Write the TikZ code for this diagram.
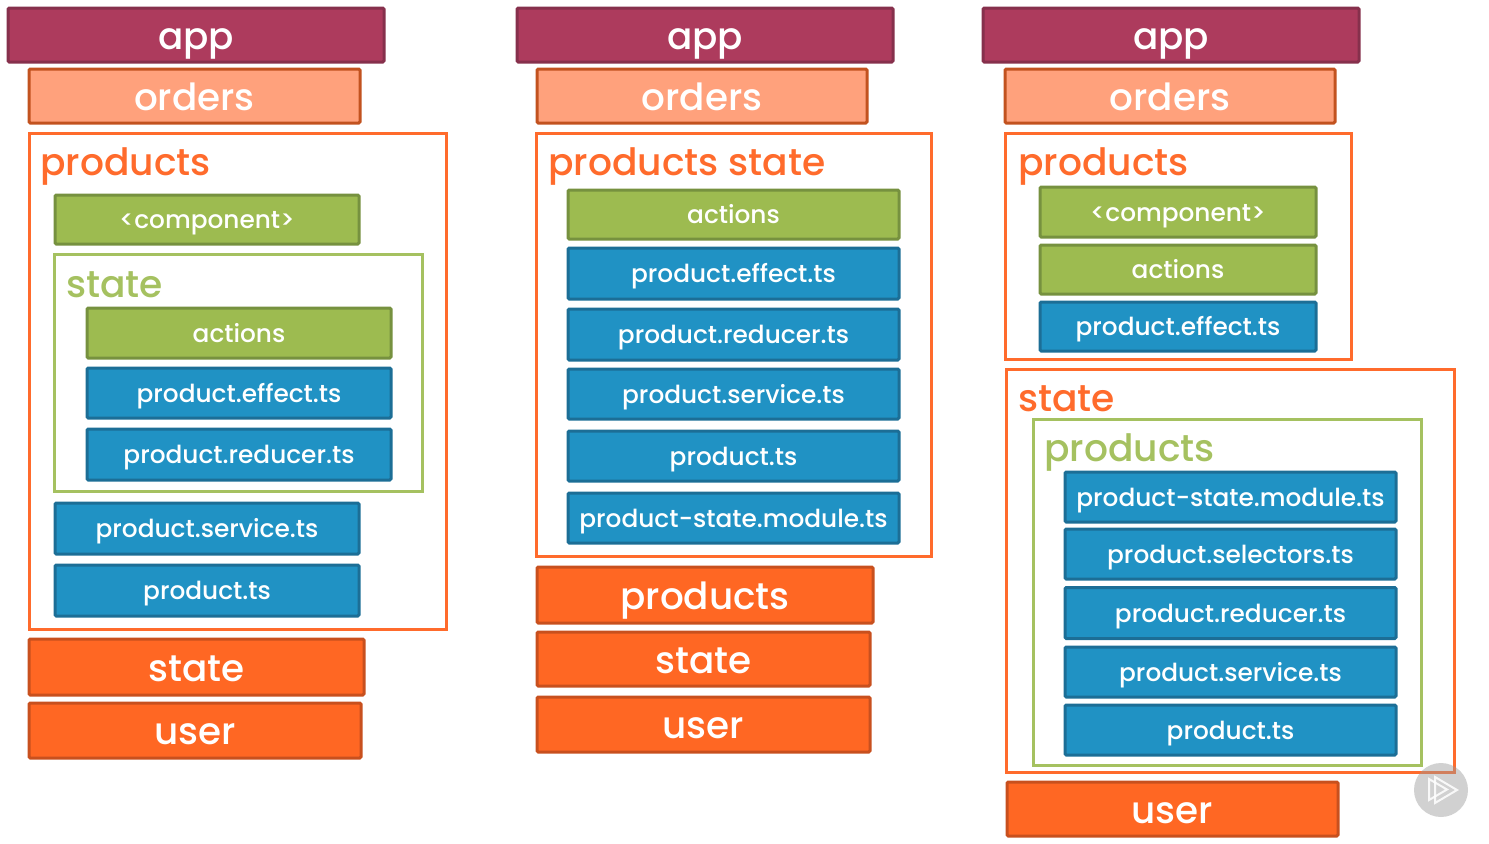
\documentclass[tikz,border=0pt]{standalone}
\usepackage{fontspec}
\setmainfont{Poppins Medium}
\usetikzlibrary{positioning}
\definecolor{appfill}{HTML}{AD3B5D}
\definecolor{appline}{HTML}{86304C}
\definecolor{ordfill}{HTML}{FFA17C}
\definecolor{ordline}{HTML}{C2521F}
\definecolor{orgfill}{HTML}{FF6723}
\definecolor{orgline}{HTML}{C8501E}
\definecolor{grnfill}{HTML}{9DBB50}
\definecolor{grnline}{HTML}{76913F}
\definecolor{blufill}{HTML}{2092C4}
\definecolor{bluline}{HTML}{1C6E96}
\definecolor{frmorg}{HTML}{FF6B2C}
\definecolor{frmgrn}{HTML}{A5C160}

\begin{document}
\begin{tikzpicture}[
  x=0.75pt, y=-0.75pt,
  sized/.style 2 args={rectangle, rounded corners=1pt, line width=2.25pt, inner sep=0pt, text=white, align=center,
    minimum width=#1*0.75pt, minimum height=#2*0.75pt},
  bigtext/.style={font=\fontsize{28}{28}\selectfont, text height=21pt, text depth=0pt},
  smalltext/.style={font=\fontsize{18.6}{19}\selectfont, text height=13.5pt, text depth=0pt},
  appbox/.style 2 args={sized={#1}{#2}, draw=appline, fill=appfill, bigtext},
  ordbox/.style 2 args={sized={#1}{#2}, draw=ordline, fill=ordfill, bigtext},
  orgbox/.style 2 args={sized={#1}{#2}, draw=orgline, fill=orgfill, bigtext},
  grnbox/.style 2 args={sized={#1}{#2}, draw=grnline, fill=grnfill, smalltext},
  blubox/.style 2 args={sized={#1}{#2}, draw=bluline, fill=blufill, smalltext},
  frame/.style 2 args={rectangle, line width=2.25pt, inner sep=0pt,
    minimum width=#1*0.75pt, minimum height=#2*0.75pt},
  title/.style={anchor=base west, inner sep=0pt, font=\fontsize{28.2}{28}\selectfont}
]
\useasboundingbox (0,0) rectangle (1489,843);

% Left column
\node[appbox={376}{54}] (appa) at (196,35) {app};
\node[ordbox={331}{54}] (ordersa) at (194.5,96) {orders};
\node[frame={417}{496}, draw=frmorg] (prodframea) at (238,381) {};
\node[title, text=frmorg] (prodlabela) at (40,175) {products};
\node[grnbox={304}{49}] (compa) at (207,219.5) {<component>};
\node[frame={368}{237}, draw=frmgrn] (stateframea) at (238.5,372.5) {};
\node[title, text=frmgrn] (statelabela) at (66,297) {state};
\node[grnbox={304}{50}] (actionsa) at (239,333) {actions};
\node[blubox={304}{50}] (effecta) at (239,393) {product.effect.ts};
\node[blubox={304}{51}] (reducera) at (239,454.5) {product.reducer.ts};
\node[blubox={304}{51}] (servicea) at (207,528.5) {product.service.ts};
\node[blubox={304}{51}] (producta) at (207,590.5) {product.ts};
\node[orgbox={335}{56}] (statea) at (196.5,667) {state};
\node[orgbox={332}{55}] (usera) at (195,730.5) {user};

% Middle column
\node[appbox={376}{54}] (appb) at (705,35) {app};
\node[ordbox={330}{54}] (ordersb) at (702,96) {orders};
\node[frame={395}{423}, draw=frmorg] (prodframeb) at (734,344.5) {};
\node[title, text=frmorg] (prodlabelb) at (548,175) {products state};
\node[grnbox={331}{49}] (actionsb) at (733.5,214.5) {actions};
\node[blubox={331}{51}] (effectb) at (733.5,273.5) {product.effect.ts};
\node[blubox={331}{51}] (reducerb) at (733.5,334.5) {product.reducer.ts};
\node[blubox={331}{50}] (serviceb) at (733.5,394) {product.service.ts};
\node[blubox={331}{50}] (productb) at (733.5,456) {product.ts};
\node[blubox={331}{50}] (moduleb) at (733.5,518) {product-state.module.ts};
\node[orgbox={336}{56}] (productsb) at (705,595) {products};
\node[orgbox={333}{54}] (stateb) at (703.5,659) {state};
\node[orgbox={333}{55}] (userb) at (703.5,724.5) {user};

% Right column
\node[appbox={376}{54}] (appc) at (1171,35) {app};
\node[ordbox={330}{54}] (ordersc) at (1170,96) {orders};
\node[frame={346}{226}, draw=frmorg] (prodframec) at (1178.5,246) {};
\node[title, text=frmorg] (prodlabelc) at (1018,175) {products};
\node[grnbox={276}{50}] (compc) at (1178,212) {<component>};
\node[grnbox={276}{49}] (actionsc) at (1178,269.5) {actions};
\node[blubox={276}{49}] (effectc) at (1178,326.5) {product.effect.ts};
\node[frame={448}{403}, draw=frmorg] (stateframec) at (1230.5,570.5) {};
\node[title, text=frmorg] (statelabelc) at (1018,411) {state};
\node[frame={388}{346}, draw=frmgrn] (prodframed) at (1227,592) {};
\node[title, text=frmgrn] (prodlabeld) at (1044,461) {products};
\node[blubox={331}{50}] (modulec) at (1230.5,497) {product-state.module.ts};
\node[blubox={331}{50}] (selectorsc) at (1230.5,554) {product.selectors.ts};
\node[blubox={331}{51}] (reducerc) at (1230.5,613) {product.reducer.ts};
\node[blubox={331}{50}] (servicec) at (1230.5,672) {product.service.ts};
\node[blubox={331}{50}] (productc) at (1230.5,730) {product.ts};
\node[orgbox={331}{54}] (userc) at (1172.5,809) {user};

% Player badge
\fill[black!40, opacity=0.45] (1441,790) circle (27);
\draw[white, line width=1.5pt, line join=miter, opacity=0.85] (1429,779) -- (1447,789.5) -- (1429,800) -- cycle;
\draw[white, line width=1.5pt, line join=miter, opacity=0.85] (1435,777) -- (1457,790) -- (1435,803) -- cycle;
\end{tikzpicture}
\end{document}
